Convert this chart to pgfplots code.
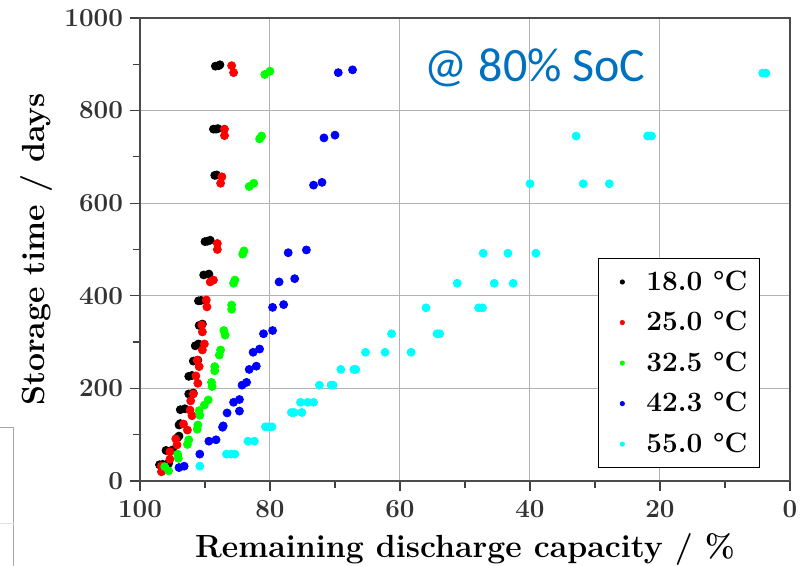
\documentclass[border=0pt]{standalone}
\usepackage{fontspec}
\usepackage{pgfplots}
\pgfplotsset{compat=1.18}
\newfontfamily\carlito{Carlito}
\definecolor{socblue}{RGB}{0,112,192}
\definecolor{cyanpt}{RGB}{0,255,255}
\definecolor{greenpt}{RGB}{0,255,0}
\begin{document}
\begin{tikzpicture}
\begin{axis}[
  scale only axis, width=325pt, height=231.5pt,
  x dir=reverse, xmin=0, xmax=100, ymin=0, ymax=1000,
  xtick={0,20,...,100}, ytick={0,200,...,1000},
  minor x tick num=1, minor y tick num=1,
  grid=major, major grid style={gray!60, line width=0.5pt},
  tick align=outside, tick pos=left,
  major tick length=5pt, minor tick length=3.5pt,
  every tick/.style={black!75, line width=0.6pt},
  axis line style={black!70, line width=0.7pt},
  /pgf/number format/assume math mode=true,
  /pgf/number format/1000 sep={},
  tick label style={font=\bfseries\fontsize{13}{15}\selectfont, text=black!80},
  xticklabel style={yshift=-1pt},
  xlabel={Remaining discharge capacity / \%},
  ylabel={Storage time / days},
  label style={font=\bfseries\fontsize{16}{18}\selectfont},
  xlabel style={yshift=-1pt},
  ylabel style={yshift=-1pt},
  legend style={at={(0.954,0.028)}, anchor=south east, draw=black, line width=0.6pt,
    font=\bfseries\fontsize{14}{16}\selectfont, row sep=5pt, inner xsep=4pt, inner ysep=4pt},
  legend cell align=left,
  legend image code/.code={\path[draw=none,fill=none] (0pt,0pt) -- (18pt,0pt); \fill[draw=none] (8pt,0pt) circle (1.3pt);},
  every axis plot/.append style={only marks, mark=*, mark size=2pt, mark options={draw=none}},
]
\addplot[color=black] coordinates {
(88.4,896) (87.9,897) (87.7,899)
(88.7,760) (88.3,760) (88.0,761)
(88.5,660) (88.2,661)
(90.0,517) (89.6,518) (89.2,520)
(90.2,445) (89.4,447)
(91.0,389) (90.6,390)
(90.9,336) (90.4,339)
(91.5,292) (91.0,296)
(91.8,259) (91.1,261)
(92.5,226) (92.0,228)
(92.5,188) (91.8,190)
(93.8,154) (93.1,156)
(94.0,121) (93.8,124)
(94.2,94) (94.0,97)
(96.0,66) (95.0,67)
(97.0,35) (96.5,36) (95.6,38)
};
\addlegendentry{18.0 °C}
\addplot[color=red] coordinates {
(85.9,897) (85.6,882)
(87.0,760) (87.0,746)
(87.4,657) (87.6,643)
(88.1,513) (88.1,500)
(88.7,434) (89.2,430)
(89.8,391) (89.7,376)
(90.5,337) (90.4,322)
(90.1,296) (90.4,283)
(91.2,261) (90.9,247)
(91.4,227) (91.1,211)
(91.8,188) (92.2,173)
(92.3,153) (92.0,141)
(93.3,123) (92.7,110)
(94.5,91) (94.3,78)
(95.4,63) (95.4,47)
(96.7,32) (96.7,20)
};
\addlegendentry{25.0 °C}
\addplot[color=greenpt] coordinates {
(80.8,878) (80.0,885)
(81.6,739) (81.3,745)
(83.2,636) (82.5,643)
(84.2,490) (84.0,497)
(85.6,427) (85.4,434)
(85.9,371) (85.9,380)
(86.9,315) (87.1,325)
(87.8,272) (87.6,283)
(88.5,238) (88.5,247)
(88.9,204) (89.0,213)
(90.1,164) (89.5,175)
(90.8,142) (90.9,152)
(91.2,112) (91.1,121)
(92.7,79) (92.5,89)
(94.1,49) (94.2,58)
(95.6,22) (96.2,31)
};
\addlegendentry{32.5 °C}
\addplot[color=blue] coordinates {
(69.5,882) (67.3,888)
(71.7,741) (70.0,747)
(73.3,639) (72.0,645)
(77.2,493) (74.4,499)
(78.6,430) (76.2,437)
(79.6,375) (77.9,381)
(81.0,318) (79.6,325)
(82.6,278) (81.6,285)
(83.2,241) (82.1,248)
(84.3,207) (83.6,213)
(85.6,170) (84.7,176)
(86.6,147) (84.7,151)
(87.2,119) (87.3,116)
(89.4,86) (88.3,89)
(90.8,58)
(94.0,29) (93.2,32)
};
\addlegendentry{42.3 °C}
\addplot[color=cyanpt] coordinates {
(90.8,32)
(86.7,58) (86.0,58) (85.4,58)
(83.4,86) (82.4,86)
(80.7,117) (80.2,117) (79.7,117)
(76.7,148) (76.3,148) (75.1,148)
(75.3,170) (74.2,170) (73.3,170)
(72.4,207) (70.6,207) (70.3,207)
(69.1,241) (67.1,241) (66.8,241)
(65.3,278) (62.3,278) (58.3,278)
(61.3,318) (54.3,318) (53.9,318)
(56.0,374) (47.9,374) (47.3,374)
(51.2,427) (45.5,427) (42.6,427)
(47.2,492) (43.4,492) (39.1,492)
(40.0,642) (31.8,642) (27.8,642)
(32.9,745) (21.9,745) (21.3,745)
(4.2,881) (3.7,881)
};
\addlegendentry{55.0 °C}
\node[text=socblue, font=\carlito\fontsize{24}{28}\selectfont] at (axis cs:39.2,892) {@ 80\% SoC};
\end{axis}
\draw[gray!70, line width=0.5pt] (-70pt,26.5pt) -- (-63pt,26.5pt) -- (-63pt,-42.5pt);
\draw[gray!25, line width=0.5pt] (-70pt,-21.5pt) -- (-63pt,-21.5pt);
\pgfresetboundingbox
\path (-70pt,-42.5pt) rectangle (334.5pt,240.5pt);
\end{tikzpicture}
\end{document}
